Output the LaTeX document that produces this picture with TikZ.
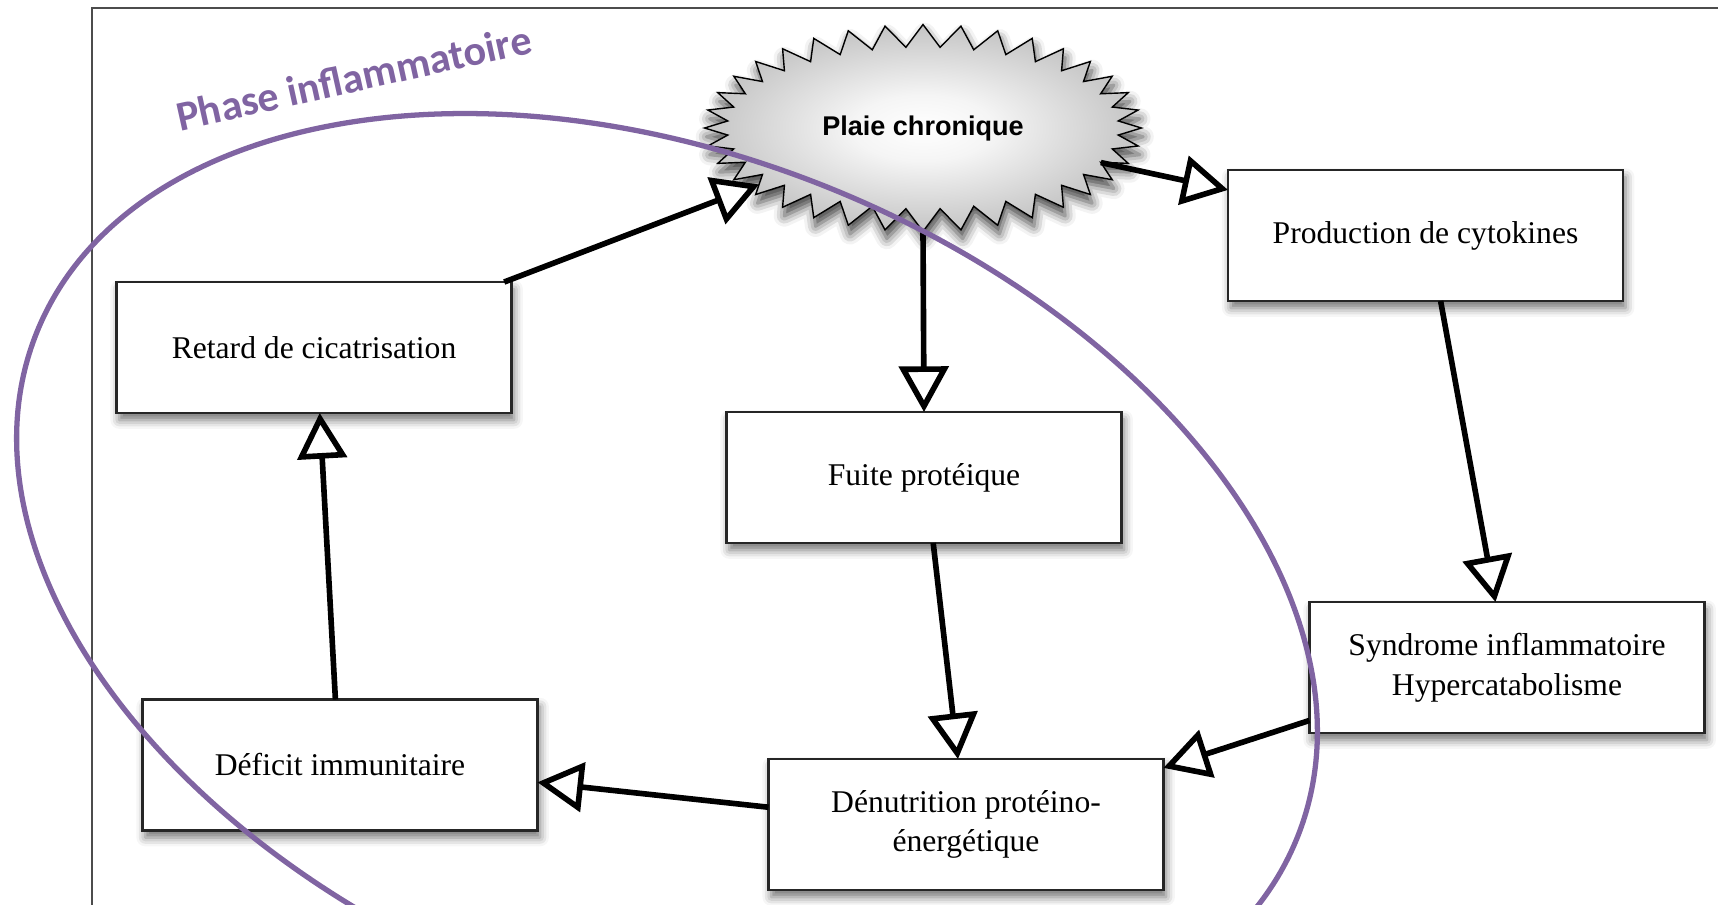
\documentclass[tikz,border=0pt]{standalone}
\usepackage{fontspec}
\setmainfont{Liberation Serif}
\newfontfamily\burstfont{Liberation Sans}
\newfontfamily\phasefont{Carlito}
\usetikzlibrary{shapes.symbols, arrows.meta, shadows.blur}
\definecolor{phase}{HTML}{8064A2}
\pgfdeclareradialshading{burst}{\pgfpoint{0bp}{0bp}}{color(0bp)=(white); color(8bp)=(white!96!black); color(40bp)=(white!60!black); color(50bp)=(white!52!black)}

\begin{document}
\begin{tikzpicture}[
        x=0.02cm, y=-0.02cm,
        every node/.style={outer sep=0pt},
        box/.style={draw=black!85, line width=1.4pt, fill=white, minimum width=7.9cm, minimum height=2.62cm,
                    align=center, font=\fontsize{18}{22.5}\selectfont,
                    blur shadow={shadow xshift=1.5pt, shadow yshift=-4pt, shadow blur radius=5pt, shadow opacity=55}},
        burstnode/.style={starburst, starburst points=36, starburst point height=0.45cm, random starburst=0,
                    minimum width=8.74cm, minimum height=4.14cm, draw, line width=0.8pt, shading=burst,
                    font=\burstfont\bfseries\fontsize{15.4}{18}\selectfont,
                    blur shadow={shadow xshift=1pt, shadow yshift=-5pt, shadow blur radius=6pt, shadow opacity=75}},
        flow/.style={line width=3.2pt, -{Triangle[open, length=26pt, width=28pt, fill=white]}},
        ]
    \useasboundingbox (0,0) rectangle (1718,904);
    \clip (0,0) rectangle (1718,904);
    \draw[black!70, line width=0.7pt] (92,8) rectangle (1760,960);

    \node[burstnode] (plaie) at (923,128) {Plaie chronique};
    \node[box] (retard)  at (314,347.5)  {Retard de cicatrisation};
    \node[box] (prod)    at (1425.5,235.5) {Production de cytokines};
    \node[box] (fuite)   at (924,477.5)  {Fuite protéique};
    \node[box] (synd)    at (1507,667.5) {Syndrome inflammatoire\\Hypercatabolisme};
    \node[box] (denut)   at (966,824.5)  {Dénutrition protéino-\\énergétique};
    \node[box] (deficit) at (340,765)    {Déficit immunitaire};

    \draw[flow] (retard.19.7) -- (plaie.199.2);
    \draw[flow] (plaie.-11.2) -- (prod.167.6);
    \draw[flow] (plaie.south) -- (fuite.north);
    \draw[flow] (prod.-77.5) -- (synd.100);
    \draw[flow] (fuite.-82.2) -- (denut.97.8);
    \draw[flow] (synd.195.6) -- (denut.16.8);
    \draw[flow] (denut.175) -- (deficit.-5.8);
    \draw[flow] (deficit.94.3) -- (retard.-85);

    % phase inflammatoire
    \draw[phase, line width=3pt, rotate around={-21.8:(667,585)}] (667,585) ellipse [x radius=679, y radius=429];
    \node[text=phase, font=\phasefont\bfseries\fontsize{24}{28}\selectfont, rotate=12.5, anchor=base west, inner sep=0pt]
        (phaselbl) at (180,131) {Phase inflammatoire};
\end{tikzpicture}
\end{document}
